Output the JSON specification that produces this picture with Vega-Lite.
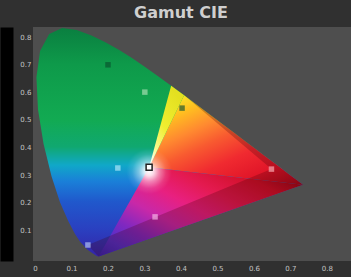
{
  "$schema": "https://vega.github.io/schema/vega-lite/v6.json",
  "width": 318,
  "height": 234,
  "autosize": {"type": "none"},
  "padding": {"left": 33, "top": 27, "right": 0, "bottom": 16},
  "background": "#303030",
  "config": {"view": {"fill": "#4e4e4e", "stroke": null}},
  "title": {"text": "Gamut CIE", "font": "DejaVu Sans", "fontSize": 16, "fontWeight": "bold", "color": "#cfcfcf", "anchor": "middle", "dx": -11, "offset": 6},
  "datasets": {
    "horseshoe": [
      {"i": 0, "x": 0.1741, "y": 0.0050}, {"i": 1, "x": 0.1689, "y": 0.0069}, {"i": 2, "x": 0.1566, "y": 0.0177},
      {"i": 3, "x": 0.1440, "y": 0.0297}, {"i": 4, "x": 0.1241, "y": 0.0578}, {"i": 5, "x": 0.1096, "y": 0.0868},
      {"i": 6, "x": 0.0913, "y": 0.1327}, {"i": 7, "x": 0.0687, "y": 0.2007}, {"i": 8, "x": 0.0454, "y": 0.2950},
      {"i": 9, "x": 0.0235, "y": 0.4127}, {"i": 10, "x": 0.0082, "y": 0.5384}, {"i": 11, "x": 0.0039, "y": 0.6548},
      {"i": 12, "x": 0.0139, "y": 0.7502}, {"i": 13, "x": 0.0389, "y": 0.8120}, {"i": 14, "x": 0.0743, "y": 0.8338},
      {"i": 15, "x": 0.1142, "y": 0.8262}, {"i": 16, "x": 0.1547, "y": 0.8059}, {"i": 17, "x": 0.1929, "y": 0.7816},
      {"i": 18, "x": 0.2296, "y": 0.7543}, {"i": 19, "x": 0.2658, "y": 0.7243}, {"i": 20, "x": 0.3016, "y": 0.6923},
      {"i": 21, "x": 0.3373, "y": 0.6589}, {"i": 22, "x": 0.3731, "y": 0.6245}, {"i": 23, "x": 0.4087, "y": 0.5896},
      {"i": 24, "x": 0.4441, "y": 0.5547}, {"i": 25, "x": 0.4788, "y": 0.5202}, {"i": 26, "x": 0.5125, "y": 0.4866},
      {"i": 27, "x": 0.5448, "y": 0.4544}, {"i": 28, "x": 0.5752, "y": 0.4242}, {"i": 29, "x": 0.6029, "y": 0.3965},
      {"i": 30, "x": 0.6270, "y": 0.3725}, {"i": 31, "x": 0.6482, "y": 0.3514}, {"i": 32, "x": 0.6658, "y": 0.3340},
      {"i": 33, "x": 0.6915, "y": 0.3083}, {"i": 34, "x": 0.7079, "y": 0.2920}, {"i": 35, "x": 0.7190, "y": 0.2809},
      {"i": 36, "x": 0.7300, "y": 0.2700}, {"i": 37, "x": 0.7347, "y": 0.2653}
    ],
    "warm": [
      {"i": 0, "x": 0.3127, "y": 0.3290}, {"i": 1, "x": 0.4087, "y": 0.5896},
      {"i": 2, "x": 0.4441, "y": 0.5547}, {"i": 3, "x": 0.4788, "y": 0.5202}, {"i": 4, "x": 0.5125, "y": 0.4866},
      {"i": 5, "x": 0.5448, "y": 0.4544}, {"i": 6, "x": 0.5752, "y": 0.4242}, {"i": 7, "x": 0.6029, "y": 0.3965},
      {"i": 8, "x": 0.6270, "y": 0.3725}, {"i": 9, "x": 0.6482, "y": 0.3514}, {"i": 10, "x": 0.6658, "y": 0.3340},
      {"i": 11, "x": 0.6915, "y": 0.3083}, {"i": 12, "x": 0.7079, "y": 0.2920}, {"i": 13, "x": 0.7190, "y": 0.2809},
      {"i": 14, "x": 0.7300, "y": 0.2700}, {"i": 15, "x": 0.7347, "y": 0.2653}
    ],
    "streak": [
      {"i": 0, "x": 0.3127, "y": 0.3290}, {"i": 1, "x": 0.3731, "y": 0.6245}, {"i": 2, "x": 0.4087, "y": 0.5896}
    ],
    "purple": [
      {"i": 0, "x": 0.3127, "y": 0.3290}, {"i": 1, "x": 0.7347, "y": 0.2653}, {"i": 2, "x": 0.1741, "y": 0.0050}
    ],
    "outside": [
      {"i": 0, "x": 0.4087, "y": 0.5896}, {"i": 1, "x": 0.4441, "y": 0.5547}, {"i": 2, "x": 0.4788, "y": 0.5202},
      {"i": 3, "x": 0.5125, "y": 0.4866}, {"i": 4, "x": 0.5448, "y": 0.4544}, {"i": 5, "x": 0.5752, "y": 0.4242},
      {"i": 6, "x": 0.6029, "y": 0.3965}, {"i": 7, "x": 0.6270, "y": 0.3725}, {"i": 8, "x": 0.6482, "y": 0.3514},
      {"i": 9, "x": 0.6658, "y": 0.3340}, {"i": 10, "x": 0.6915, "y": 0.3083}, {"i": 11, "x": 0.7079, "y": 0.2920},
      {"i": 12, "x": 0.7190, "y": 0.2809}, {"i": 13, "x": 0.7300, "y": 0.2700}, {"i": 14, "x": 0.7347, "y": 0.2653},
      {"i": 15, "x": 0.1741, "y": 0.0050}, {"i": 16, "x": 0.1450, "y": 0.0470}, {"i": 17, "x": 0.6480, "y": 0.3220}
    ],
    "marks": [
      {"id": "R", "x": 0.648, "y": 0.322},
      {"id": "B", "x": 0.145, "y": 0.047},
      {"id": "M", "x": 0.329, "y": 0.149},
      {"id": "C", "x": 0.227, "y": 0.326},
      {"id": "G1", "x": 0.403, "y": 0.543},
      {"id": "G2", "x": 0.200, "y": 0.700},
      {"id": "G3", "x": 0.301, "y": 0.601}
    ],
    "white": [{"x": 0.3127, "y": 0.329}]
  },
  "encoding": {
    "x": {"field": "x", "type": "quantitative", "scale": {"domain": [-0.0055, 0.866], "nice": false, "zero": false},
      "axis": {"values": [0, 0.1, 0.2, 0.3, 0.4, 0.5, 0.6, 0.7, 0.8], "format": ".1~f", "title": null, "grid": false, "domain": false, "ticks": false, "tickSize": 0, "labelPadding": 3, "labelFontSize": 7, "labelColor": "#c4c4c4", "labelFont": "DejaVu Sans"}},
    "y": {"field": "y", "type": "quantitative", "scale": {"domain": [-0.011, 0.837], "nice": false, "zero": false},
      "axis": {"values": [0.1, 0.2, 0.3, 0.4, 0.5, 0.6, 0.7, 0.8], "format": ".1~f", "title": null, "grid": false, "ticks": false, "tickSize": 0, "offset": 26.5, "domainWidth": 13, "domainColor": "#000000", "labelPadding": -24.5, "labelFontSize": 7, "labelColor": "#c4c4c4", "labelFont": "DejaVu Sans"}}
  },
  "layer": [
    {
      "data": {"name": "horseshoe"},
      "mark": {"type": "line", "strokeWidth": 0, "stroke": "transparent",
        "fill": {"gradient": "linear", "x1": 0, "y1": 0, "x2": 0, "y2": 1, "stops": [
          {"offset": 0, "color": "#0a7f40"}, {"offset": 0.16, "color": "#0e9a4a"},
          {"offset": 0.4, "color": "#12aa52"}, {"offset": 0.52, "color": "#10a870"},
          {"offset": 0.6, "color": "#10a8c8"}, {"offset": 0.67, "color": "#1a80d8"},
          {"offset": 0.76, "color": "#2058cc"}, {"offset": 0.88, "color": "#2a40c0"},
          {"offset": 1, "color": "#3424a8"}]}},
      "encoding": {"order": {"field": "i", "type": "quantitative"}}
    },
    {
      "data": {"name": "warm"},
      "mark": {"type": "line", "strokeWidth": 0, "stroke": "transparent",
        "fill": {"gradient": "linear", "x1": 0.2, "y1": 0, "x2": 1, "y2": 1, "stops": [
          {"offset": 0, "color": "#f8e828"}, {"offset": 0.12, "color": "#ffc020"},
          {"offset": 0.28, "color": "#ff8a30"}, {"offset": 0.42, "color": "#f85a30"},
          {"offset": 0.6, "color": "#f02a30"}, {"offset": 0.8, "color": "#e01428"},
          {"offset": 1, "color": "#a00818"}]}},
      "encoding": {"order": {"field": "i", "type": "quantitative"}}
    },
    {
      "data": {"name": "streak"},
      "mark": {"type": "line", "strokeWidth": 0, "stroke": "transparent",
        "fill": {"gradient": "linear", "x1": 0, "y1": 1, "x2": 0.6, "y2": 0, "stops": [
          {"offset": 0, "color": "#ffffff"}, {"offset": 0.25, "color": "#fafa90"},
          {"offset": 0.55, "color": "#f0ee30"}, {"offset": 1, "color": "#e4e020"}]}},
      "encoding": {"order": {"field": "i", "type": "quantitative"}}
    },
    {
      "data": {"name": "purple"},
      "mark": {"type": "line", "strokeWidth": 0, "stroke": "transparent",
        "fill": {"gradient": "linear", "x1": 1, "y1": 0.2, "x2": 0, "y2": 1, "stops": [
          {"offset": 0, "color": "#a00818"}, {"offset": 0.12, "color": "#d01028"},
          {"offset": 0.3, "color": "#e41a50"}, {"offset": 0.45, "color": "#e82080"},
          {"offset": 0.6, "color": "#c828a8"}, {"offset": 0.75, "color": "#8028c0"},
          {"offset": 0.88, "color": "#5030c8"}, {"offset": 1, "color": "#3424b0"}]}},
      "encoding": {"order": {"field": "i", "type": "quantitative"}}
    },
    {
      "data": {"name": "outside"},
      "mark": {"type": "line", "strokeWidth": 0, "stroke": "transparent", "fill": "#400008", "fillOpacity": 0.25},
      "encoding": {"order": {"field": "i", "type": "quantitative"}}
    },
    {
      "data": {"name": "horseshoe"},
      "mark": {"type": "line", "strokeWidth": 0, "stroke": "transparent",
        "fill": {"gradient": "radial", "x1": 0.4226, "y1": 0.609, "r1": 0, "x2": 0.4226, "y2": 0.609, "r2": 0.085, "stops": [
          {"offset": 0, "color": "rgba(255,255,255,1)"}, {"offset": 0.2, "color": "rgba(255,255,255,0.85)"},
          {"offset": 0.45, "color": "rgba(255,255,255,0.45)"}, {"offset": 0.75, "color": "rgba(255,255,255,0.12)"},
          {"offset": 1, "color": "rgba(255,255,255,0)"}]}},
      "encoding": {"order": {"field": "i", "type": "quantitative"}}
    },
    {
      "data": {"name": "marks"},
      "mark": {"type": "point", "shape": "square", "filled": true, "size": 30, "opacity": 0.75},
      "encoding": {
        "color": {"field": "id", "type": "nominal", "legend": null,
          "scale": {"domain": ["R", "B", "M", "C", "G1", "G2", "G3"], "range": ["#f4a0a8", "#a8b8f0", "#f0a8e0", "#a0e0f4", "#306030", "#0a5a30", "#9ad8a8"]}}
      }
    },
    {
      "data": {"name": "white"},
      "mark": {"type": "point", "shape": "square", "filled": true, "size": 36, "color": "#ffffff", "stroke": "#202020", "strokeWidth": 1.5, "opacity": 1},
      "encoding": {}
    }
  ]
}
